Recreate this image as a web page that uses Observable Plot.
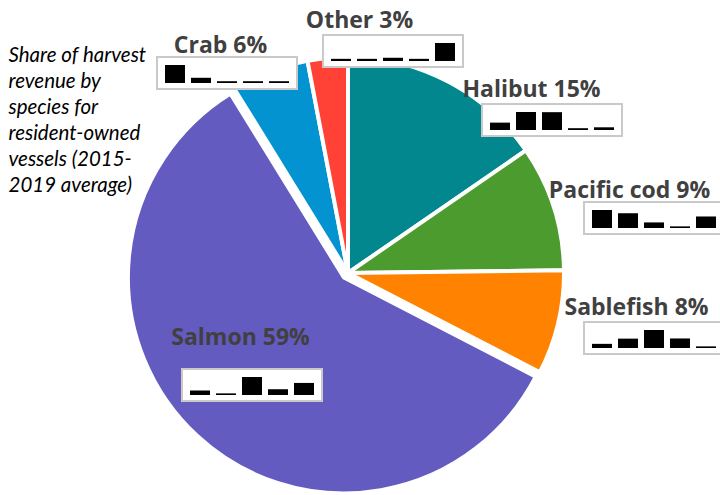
<!DOCTYPE html>
<html>
<head>
<meta charset="utf-8">
<script src="https://cdn.jsdelivr.net/npm/d3@7"></script>
<script src="https://cdn.jsdelivr.net/npm/@observablehq/plot@0.6"></script>
<style>
  html, body { margin: 0; padding: 0; background: #fff; }
  #chart svg { display: block; }
</style>
</head>
<body>
<div id="chart"></div>
<script>
// ---- data ----
const species = ["Halibut", "Pacific cod", "Sablefish", "Salmon", "Crab", "Other"];
const shares = [15.4, 9.4, 7.8, 58.6, 5.8, 3.0]; // % of harvest revenue, 2015-2019 avg
const years = ["2015", "2016", "2017", "2018", "2019"];
// relative yearly revenue (share of each species' peak year)
const halibutTrend = [0.41, 1.00, 0.99, 0.10, 0.15];
const pacificCodTrend = [1.00, 0.82, 0.31, 0.09, 0.64];
const sablefishTrend = [0.23, 0.52, 1.00, 0.53, 0.09];
const salmonTrend = [0.25, 0.09, 1.00, 0.32, 0.67];
const crabTrend = [1.00, 0.29, 0.10, 0.10, 0.10];
const otherTrend = [0.12, 0.12, 0.18, 0.12, 1.00];
const subtitle = "Share of harvest\nrevenue by\nspecies for\nresident-owned\nvessels (2015-\n2019 average)";

// ---- styles / layout (pixel space) ----
const colors = ["#03878F", "#4C9B2F", "#FF8200", "#635BC0", "#0393D0", "#FF4136"];
const explode = [0, 0, 0, 6, 0, 0];
const CX = 348, CY = 273, R = 216;
const labelPos = [[531, 96], [629, 197], [636, 314], [240, 344], [220, 52], [359, 27]]; // center x, baseline
const boxPos = [[482, 104], [584, 202], [584, 322], [182, 369], [157, 57], [323, 35]]; // left, top
const BOX_W = 140, BOX_H = 32, BAR_W = 20, BAR_STEP = 26, BAR_PAD = 8, BAR_BOTTOM = 6, BAR_MAX = 18;

const trends = [halibutTrend, pacificCodTrend, sablefishTrend, salmonTrend, crabTrend, otherTrend];
const slices = species.map((s, i) => ({species: s, share: shares[i], explode: explode[i]}));
const labels = species.map((s, i) => ({text: `${s} ${Math.round(shares[i])}%`, x: labelPos[i][0], y: labelPos[i][1]}));
const boxes = species.map((s, i) => ({species: s, left: boxPos[i][0], top: boxPos[i][1]}));
const bars = species.flatMap((s, i) => years.map((yr, j) => ({
  species: s, year: yr, value: trends[i][j], left: boxPos[i][0], top: boxPos[i][1], j
})));

const colorScale = Plot.scale({color: {type: "ordinal", domain: species, range: colors}});

function pieMark(index, scales) {
  const x = scales.x, y = scales.y;
  const cx = x(CX), cy = y(CY), r = x(CX + R) - x(CX);
  const g = d3.create("svg:g");
  const arcs = d3.pie().sort(null).value(d => d.share)(slices);
  const arc = d3.arc().innerRadius(0).outerRadius(r);
  for (const a of arcs) {
    const mid = (a.startAngle + a.endAngle) / 2;
    const tx = cx + a.data.explode * Math.sin(mid);
    const ty = cy - a.data.explode * Math.cos(mid);
    g.append("path")
      .attr("d", arc(a))
      .attr("transform", `translate(${tx},${ty})`)
      .attr("fill", colorScale.apply(a.data.species))
      .attr("stroke", "white")
      .attr("stroke-width", 4)
      .attr("stroke-linejoin", "round");
  }
  return g.node();
}

const chart = Plot.plot({
  width: 720,
  height: 495,
  margin: 0,
  style: {background: "#fff", overflow: "hidden"},
  x: {domain: [0, 720], range: [0, 720], axis: null},
  y: {domain: [0, 495], range: [0, 495], axis: null},
  marks: [
    pieMark,
    Plot.rect(boxes, {
      x1: d => d.left, x2: d => d.left + BOX_W,
      y1: d => d.top, y2: d => d.top + BOX_H,
      fill: "white", stroke: "#C9C9C9", strokeWidth: 2
    }),
    Plot.rect(bars, {
      x1: d => d.left + BAR_PAD + d.j * BAR_STEP,
      x2: d => d.left + BAR_PAD + d.j * BAR_STEP + BAR_W,
      y1: d => d.top + BOX_H - BAR_BOTTOM - Math.max(1.6, d.value * BAR_MAX),
      y2: d => d.top + BOX_H - BAR_BOTTOM,
      fill: "black"
    }),
    Plot.text(labels, {
      x: "x", y: "y", text: "text",
      textAnchor: "middle", lineAnchor: "bottom",
      fontFamily: "Open Sans", fontWeight: "bold", fontSize: 23, fill: "#404040"
    }),
    Plot.text([subtitle], {
      x: () => 8, y: () => 42.5, text: d => d,
      textAnchor: "start", lineAnchor: "top", lineHeight: 1.27,
      fontFamily: "Lato", fontStyle: "italic", fontSize: 20.5, fill: "#000"
    })
  ]
});
document.getElementById("chart").appendChild(chart);
</script>
</body>
</html>
